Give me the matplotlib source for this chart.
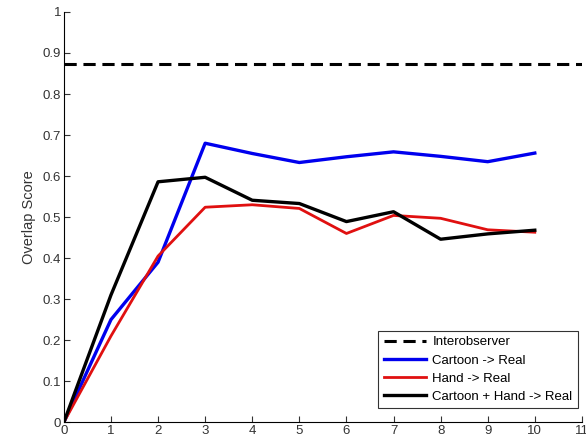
import numpy as np
import matplotlib.pyplot as plt

plt.rcParams['font.family'] = ['Liberation Sans', 'DejaVu Sans']

x = np.arange(0, 11)
interobserver = 0.874
cartoon = [0, 0.25, 0.39, 0.68, 0.655, 0.633, 0.647, 0.659, 0.648, 0.635, 0.656]
hand = [0, 0.21, 0.405, 0.524, 0.53, 0.521, 0.46, 0.504, 0.497, 0.469, 0.463]
both = [0, 0.31, 0.586, 0.597, 0.541, 0.533, 0.489, 0.513, 0.446, 0.459, 0.468]

fig = plt.figure(figsize=(5.86, 4.43), dpi=100)
ax = fig.add_axes([0.109, 0.047, 0.884, 0.926])

ax.axhline(interobserver, color='black', lw=2.2, ls=(0, (4, 2.2)), label='Interobserver')
ax.plot(x, cartoon, color='#0000ee', lw=2.4, label='Cartoon -> Real')
ax.plot(x, hand, color='#e01010', lw=2.0, label='Hand -> Real')
ax.plot(x, both, color='black', lw=2.4, label='Cartoon + Hand -> Real')

ax.set_xlim(0, 11)
ax.set_ylim(0, 1)
ax.set_xticks(range(0, 12))
ax.set_yticks(np.arange(0, 1.01, 0.1))
ax.set_yticklabels(['0', '0.1', '0.2', '0.3', '0.4', '0.5', '0.6', '0.7', '0.8', '0.9', '1'])
ax.tick_params(direction='in', labelsize=9.5, colors='#333333', length=4, pad=2)
ax.spines['top'].set_visible(False)
ax.spines['right'].set_visible(False)
ax.set_ylabel('Overlap Score', fontsize=10.5, color='#333333', labelpad=5)

leg = ax.legend(loc='lower right', fontsize=9.5, frameon=True, fancybox=False,
                edgecolor='black', handlelength=3.2, borderaxespad=0.0,
                bbox_to_anchor=(0.992, 0.034), labelspacing=0.45, borderpad=0.4,
                handletextpad=0.5)
leg.get_frame().set_linewidth(0.8)

fig.savefig('out.png', dpi=100)
